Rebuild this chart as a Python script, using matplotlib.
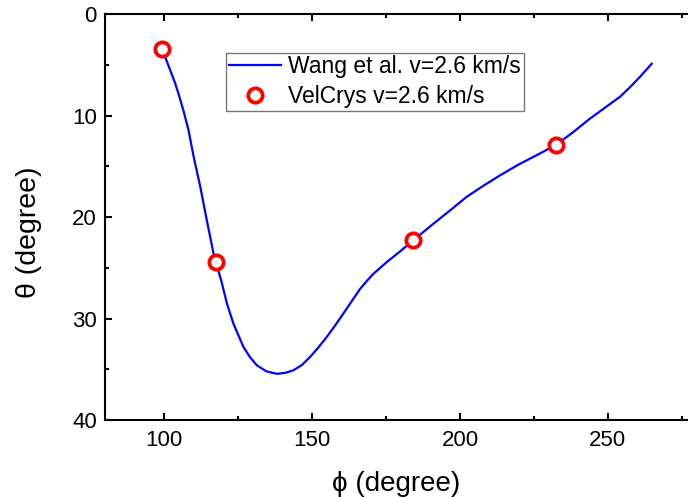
import matplotlib
matplotlib.use("Agg")
import matplotlib.pyplot as plt

plt.rcParams['font.family'] = ['Liberation Sans', 'DejaVu Sans']

# Wang et al. curve (phi, theta) in degrees
wang_phi = [99.2, 100.3, 102, 103.7, 105, 106.5, 108.2, 110, 112.2, 114.4, 116.7,
            119.5, 121.2, 123.4, 126.8, 129, 131.3, 134.5, 138.1, 141, 143.7,
            146.5, 149.3, 152, 155, 158, 160.6, 163.5, 166.2, 168.5, 170.7, 175, 179.7,
            184.2, 190, 196, 202.3, 208, 213.5, 220, 226, 232.4, 238, 243.5,
            249.6, 254.1, 257.5, 260.8, 264.8]
wang_theta = [3.4, 4.2, 5.5, 6.8, 8.0, 9.5, 11.4, 14.1, 17.0, 20.3, 23.6,
              26.5, 28.5, 30.5, 32.8, 33.8, 34.6, 35.2, 35.45, 35.35, 35.1,
              34.6, 33.8, 32.9, 31.8, 30.6, 29.5, 28.25, 27.1, 26.3, 25.6, 24.5, 23.4,
              22.3, 20.9, 19.5, 18.0, 16.9, 15.9, 14.8, 13.9, 12.9, 11.7, 10.4,
              9.1, 8.15, 7.2, 6.2, 4.9]

# VelCrys points
vc_phi = [99.2, 117.6, 184.2, 232.4]
vc_theta = [3.4, 24.45, 22.3, 12.9]

fig = plt.figure(figsize=(6.88, 4.97), dpi=100)
ax = fig.add_axes([0.1526, 0.1549, 0.860, 0.8169])

ax.plot(wang_phi, wang_theta, color='#0000ff', lw=1.6, label='Wang et al. v=2.6 km/s', zorder=2)
ax.plot(vc_phi, vc_theta, 'o', ms=10.3, mew=2.7, mec='#ff0000', mfc='white',
        label='VelCrys v=2.6 km/s', zorder=3)

ax.set_xlim(80, 280)
ax.set_ylim(40, 0)
ax.set_xticks([100, 150, 200, 250])
ax.set_xticks([125, 175, 225, 275], minor=True)
ax.set_yticks([0, 10, 20, 30, 40])
ax.set_yticks([5, 15, 25, 35], minor=True)

for s in ax.spines.values():
    s.set_linewidth(1.5)
ax.tick_params(which='both', direction='in', top=True, right=True, width=1.5,
               labelsize=16)
ax.tick_params(axis='x', pad=7.5)
ax.tick_params(axis='y', pad=5.8)
ax.tick_params(which='major', length=5)
ax.tick_params(which='minor', length=3)

ax.set_xlabel('ϕ (degree)', fontsize=20)
ax.set_ylabel('θ (degree)', fontsize=20.5)
ax.xaxis.set_label_coords(0.4916, -0.125)
ax.yaxis.set_label_coords(-0.106, 0.463)

leg = ax.legend(loc='upper left', bbox_to_anchor=(226 / 688, 1 - 52.7 / 497),
                bbox_transform=fig.transFigure, fontsize=16.5, frameon=True,
                fancybox=False, borderpad=0.12, borderaxespad=0, handlelength=2.3,
                handletextpad=0.3, labelspacing=0.28)
leg.get_frame().set_edgecolor('#555555')
leg.get_frame().set_linewidth(1.0)

fig.savefig('out.png', dpi=100)
